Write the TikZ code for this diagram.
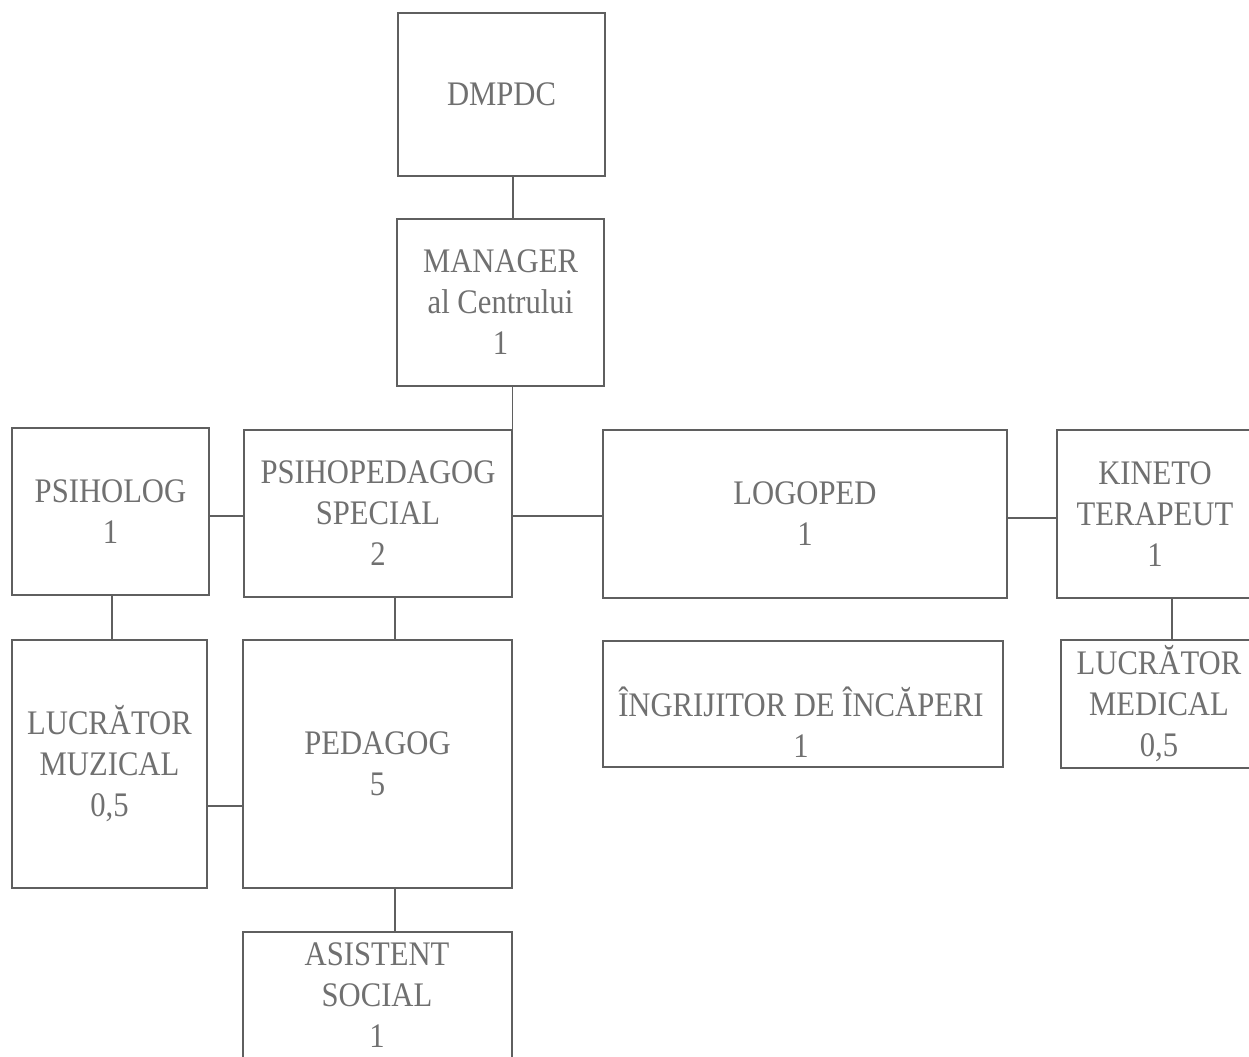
\documentclass[tikz,border=0pt]{standalone}
\usepackage{fontspec}
\setmainfont{Liberation Serif}[FakeStretch=0.89]
\definecolor{boxline}{HTML}{5F5F5F}
\definecolor{boxtext}{HTML}{707070}
\tikzset{
  box/.style={draw=boxline, line width=0.8pt, inner sep=0pt, align=center,
    text=boxtext, font=\fontsize{19.6}{23.3}\selectfont},
  txt/.style={inner sep=0pt, align=center, text=boxtext, font=\fontsize{19.6}{23.3}\selectfont},
  conn/.style={draw=boxline, line width=0.8pt}
}
\begin{document}
\begin{tikzpicture}[x=0.02cm, y=-0.02cm]
\useasboundingbox[fill=white] (0,0) rectangle (1249,1057);
\begin{scope}
\clip (0,0) rectangle (1249,1057);
% boxes
\node[box, minimum width=4.14cm, minimum height=3.26cm] (dmpdc) at (501.5,94.5) {DMPDC};
\node[box, minimum width=4.14cm, minimum height=3.34cm] (manager) at (500.5,302.5) {MANAGER\\al Centrului\\1};
\node[box, minimum width=3.94cm, minimum height=3.34cm] (psiholog) at (110.5,511.5) {PSIHOLOG\\1};
\node[box, minimum width=5.36cm, minimum height=3.34cm] (psihoped) at (378,513.5) {PSIHOPEDAGOG\\SPECIAL\\2};
\node[box, minimum width=8.08cm, minimum height=3.36cm] (logoped) at (805,514) {LOGOPED\\1};
\node[box, minimum width=3.92cm, minimum height=3.36cm] (kineto) at (1155,514) {KINETO\\TERAPEUT\\1};
\node[box, minimum width=3.90cm, minimum height=4.96cm] (muzical) at (109.5,764) {LUCRĂTOR\\MUZICAL\\0,5};
\node[box, minimum width=5.38cm, minimum height=4.96cm] (pedagog) at (377.5,764) {PEDAGOG\\5};
\node[box, minimum width=8.00cm, minimum height=2.52cm] (ingrij) at (803,704) {};
\node[txt] (ingrijT) at (801,722) {ÎNGRIJITOR DE ÎNCĂPERI\\1};
\node[box, minimum width=3.92cm, minimum height=2.56cm] (medical) at (1159,704) {LUCRĂTOR\\MEDICAL\\0,5};
\node[box, minimum width=5.38cm, minimum height=2.80cm] (asistent) at (377.5,1002) {};
\node[txt] (asistentT) at (377,995) {ASISTENT\\SOCIAL\\1};
% connectors
\draw[conn] ([xshift=0.23cm]dmpdc.south) -- ([xshift=0.23cm]dmpdc.south |- manager.north);
\draw[conn] (manager.south -| psihoped.north east) -- (psihoped.north east);
\draw[conn] ([yshift=-0.05cm]psihoped.east) -- ([yshift=-0.05cm]psihoped.east -| logoped.west);
\draw[conn] ([yshift=-0.09cm]psiholog.east) -- ([yshift=-0.09cm]psiholog.east -| psihoped.west);
\draw[conn] ([yshift=-0.08cm]logoped.east) -- ([yshift=-0.08cm]logoped.east -| kineto.west);
\draw[conn] ([xshift=0.34cm]kineto.south) -- ([xshift=0.34cm]kineto.south |- medical.north);
\draw[conn] ([xshift=0.03cm]psiholog.south) -- ([xshift=0.03cm]psiholog.south |- muzical.north);
\draw[conn] ([xshift=0.34cm]psihoped.south) -- ([xshift=0.34cm]psihoped.south |- pedagog.north);
\draw[conn] ([yshift=-0.84cm]muzical.east) -- ([yshift=-0.84cm]muzical.east -| pedagog.west);
\draw[conn] ([xshift=0.35cm]pedagog.south) -- ([xshift=0.35cm]pedagog.south |- asistent.north);
\end{scope}
\end{tikzpicture}
\end{document}
